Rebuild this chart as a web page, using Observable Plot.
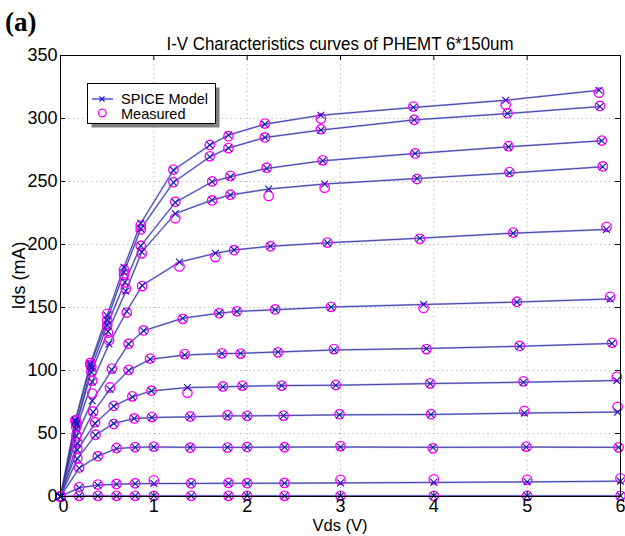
<!DOCTYPE html>
<html>
<head>
<meta charset="utf-8">
<script src="https://cdn.jsdelivr.net/npm/d3@7"></script>
<script src="https://cdn.jsdelivr.net/npm/@observablehq/plot@0.6"></script>
<style>
  html, body { margin: 0; padding: 0; background: #fff; }
  #wrap { position: relative; width: 625px; height: 536px; }
  #wrap > svg { position: absolute; left: 0; top: 0; }
  #over { pointer-events: none; }
</style>
</head>
<body>
<div id="wrap"></div>
<script>
// ---- data (Vds in V, Ids in mA), one array per curve ----
const vds1 = [0,0.2,0.4,0.6,0.8,1.0,1.4,1.8,2.0,2.4,3.0,4.0,5.0,6.0];
const mod1 = [0,0.5,0.5,0.5,0.5,0.5,0.5,0.5,0.5,0.5,0.5,0.5,0.5,0.5];
const mea1 = [0,0.5,0.5,0.5,0.5,0.5,0.5,0.5,0.5,0.5,0.5,0.5,0.5,0.5];

const vds2 = [0,0.2,0.4,0.6,0.8,1.0,1.4,1.8,2.0,2.4,3.0,4.0,5.0,6.0];
const mod2 = [0,7,9,9.8,10.2,10.3,10.3,10.5,10.5,10.6,10.8,11.2,11.6,12.2];
const mea2 = [0,7.5,9.5,10,10.5,12.8,10.5,10.8,10.6,10.8,13.2,13.6,13.2,14.4];

const vds3 = [0,0.2,0.4,0.6,0.8,1.0,1.39,1.79,2.0,2.4,3.0,3.99,4.99,5.98];
const mod3 = [0,22.5,32,38,39,39.3,39,39,39,39.2,39.3,39,39.2,39];
const mea3 = [0,23,32,38.5,39.2,39.6,38.7,38.8,39.3,39.1,40,38.2,39.6,39];

const vds4 = [0,0.18,0.375,0.57,0.79,0.98,1.39,1.79,2.0,2.39,2.99,3.97,4.97,5.97];
const mod4 = [0,30,48.7,58,61.9,62.7,63.2,64,64,64.2,64.8,65.1,66.2,67];
const mea4 = [0,30.5,49,57.5,62,63,63.5,64.5,64,64.2,65.3,65.3,67.9,71.2];

const vds5 = [0,0.18,0.37,0.57,0.77,0.975,1.36,1.74,1.95,2.37,2.95,3.96,4.96,5.96];
const mod5 = [0,37,58,71.7,79,83.8,86.5,87,87.5,88,88.3,89.6,90.7,92];
const mea5 = [0,38,59,72,79.5,84,82.3,87.3,88,88,88.5,89.8,91.4,95];

const vds6 = [0,0.18,0.35,0.53,0.73,0.96,1.33,1.73,1.93,2.33,2.93,3.92,4.92,5.91];
const mod6 = [0,42,67,85,100,108.9,112.3,113.4,113.6,114.7,116.3,117.5,119.2,121.5];
const mea6 = [0,43,67.5,86.5,100.5,109.5,113,113.6,113.4,114.4,117,117,119.5,122];

const vds7 = [0,0.17,0.34,0.55,0.73,0.89,1.31,1.70,1.89,2.30,2.90,3.89,4.89,5.89];
const mod7 = [0,48,76,100.5,121,131.5,141.5,145.5,146.9,148.2,150.3,152.4,154.3,156.8];
const mea7 = [0,48.5,81.7,101.5,121.3,131.8,141,145.5,147,148.5,150.5,149.7,154.6,158.5];

const vds8 = [0,0.17,0.34,0.52,0.71,0.875,1.275,1.66,1.86,2.25,2.86,3.85,4.85,5.85];
const mod8 = [0,54,91,121,147,167.5,186,193,195.7,198.6,201.3,205,209,212];
const mea8 = [0,55,92,124,146,167,182.5,190,195.5,198.6,201.5,204.5,209.5,214];

const vds9 = [0,0.17,0.33,0.51,0.70,0.87,1.23,1.625,1.82,2.23,2.83,3.82,4.81,5.81];
const mod9 = [0,57,98.8,131,163,194,224.5,235.3,239.3,244,248,252.4,256.7,261.7];
const mea9 = [0,58,99,130,165,193,220.8,235,239.5,238.5,245,252,257.5,262];

const vds10 = [0,0.17,0.33,0.50,0.69,0.86,1.23,1.625,1.82,2.21,2.81,3.80,4.80,5.80];
const mod10 = [0,58,102,136,170,199,233.4,249.8,253.8,260.4,266.4,272.2,277.5,282.3];
const mea10 = [0,58.5,103,135.8,170,199,234,250,254.5,261,266.8,272.3,278,282.5];

const vds11 = [0,0.16,0.32,0.50,0.68,0.86,1.21,1.60,1.80,2.19,2.79,3.79,4.79,5.78];
const mod11 = [0,59.5,104,140,178,212.4,249.3,269.6,276.5,284.9,290.8,298.9,303.9,309.5];
const mea11 = [0,60,104.5,139.8,176,212,249.5,270,276.5,285,291.5,299,304.2,310];

const vds12 = [0,0.16,0.32,0.50,0.68,0.86,1.21,1.60,1.80,2.19,2.79,3.78,4.77,5.77];
const mod12 = [0,60.6,105.5,143.7,182,216.8,259,278.9,286.8,295.5,302.6,308.7,314.5,322.4];
const mea12 = [0,60.6,106,145,180,215,259.5,279,286,296,300,309.5,311,320.5];

const xTicks = [0,1,2,3,4,5,6];
const yTicks = [0,50,100,150,200,250,300,350];
const titleText = "I-V Characteristics curves of PHEMT 6*150um";
const panelLabel = "(a)";
const xLabel = "Vds (V)";
const yLabel = "Ids (mA)";
const legendLabels = ["SPICE Model", "Measured"];

// ---- build tables ----
const curves = [
  [vds1, mod1, mea1], [vds2, mod2, mea2], [vds3, mod3, mea3], [vds4, mod4, mea4],
  [vds5, mod5, mea5], [vds6, mod6, mea6], [vds7, mod7, mea7], [vds8, mod8, mea8],
  [vds9, mod9, mea9], [vds10, mod10, mea10], [vds11, mod11, mea11], [vds12, mod12, mea12]
];
const modelRows = curves.flatMap(([v, m], k) => v.map((x, i) => ({curve: k, v: x, ids: m[i]})));
const measRows = curves.flatMap(([v, , s], k) => v.map((x, i) => ({curve: k, v: x, ids: s[i]})));

const W = 625, H = 536;
const mL = 60, mR = 5, mT = 55, mB = 40;
const pW = W - mL - mR, pH = H - mT - mB;
const FONT = "'Liberation Sans', Arial, Helvetica, sans-serif";

const chart = Plot.plot({
  width: W, height: H,
  marginLeft: mL, marginRight: mR, marginTop: mT, marginBottom: mB,
  style: {fontSize: "18px", fontFamily: FONT, background: "white", color: "black"},
  x: {domain: [0, 6], label: null},
  y: {domain: [0, 350], label: null},
  marks: [
    Plot.gridX(xTicks.slice(1, -1), {stroke: "#a8a8a8", strokeOpacity: 1, strokeDasharray: "1,3.5"}),
    Plot.gridY(yTicks.slice(1, -1), {stroke: "#a8a8a8", strokeOpacity: 1, strokeDasharray: "1,3.5"}),
    Plot.line(modelRows, {x: "v", y: "ids", z: "curve", stroke: "#aeb0ee", strokeWidth: 2}),
    Plot.line(modelRows, {x: "v", y: "ids", z: "curve", stroke: "#3a3a98", strokeWidth: 0.9}),
    Plot.dot(measRows, {x: "v", y: "ids", symbol: "circle", r: 4.7, stroke: "#ff00ff", strokeWidth: 1.4, fill: "none"}),
    Plot.dot(modelRows, {x: "v", y: "ids", symbol: "times", r: 3.2, stroke: "#1818b8", strokeWidth: 1.1}),
    Plot.tickX(xTicks, {x: d => d, insetTop: pH - 5, stroke: "black"}),
    Plot.tickX(xTicks, {x: d => d, insetBottom: pH - 5, stroke: "black"}),
    Plot.tickY(yTicks, {y: d => d, insetRight: pW - 5, stroke: "black"}),
    Plot.tickY(yTicks, {y: d => d, insetLeft: pW - 5, stroke: "black"}),
    Plot.axisX(xTicks.slice(0, 1), {tickSize: 0, tickPadding: 3, dx: 3, label: null, tickFormat: d3.format("d")}),
    Plot.axisX(xTicks.slice(1), {tickSize: 0, tickPadding: 3, label: null, tickFormat: d3.format("d")}),
    Plot.axisY(yTicks, {tickSize: 0, tickPadding: 3, label: null, tickFormat: d3.format("d")}),
    Plot.frame({stroke: "black", strokeWidth: 1})
  ]
});

const wrap = document.getElementById("wrap");
wrap.appendChild(chart);

// ---- overlay: panel label, title, axis labels, legend ----
const NS = "http://www.w3.org/2000/svg";
const over = document.createElementNS(NS, "svg");
over.setAttribute("id", "over");
over.setAttribute("width", W);
over.setAttribute("height", H);
function el(tag, attrs, text) {
  const e = document.createElementNS(NS, tag);
  for (const k in attrs) e.setAttribute(k, attrs[k]);
  if (text != null) e.textContent = text;
  over.appendChild(e);
  return e;
}
el("text", {x: 5, y: 31, "font-family": "'Liberation Serif', 'Times New Roman', serif", "font-weight": "bold", "font-size": 27}, panelLabel);
el("text", {x: mL + pW / 2, y: 50, "text-anchor": "middle", "font-family": FONT, "font-size": 17.5, textLength: 347, lengthAdjust: "spacingAndGlyphs"}, titleText);
el("text", {x: mL + pW / 2, y: 531, "text-anchor": "middle", "font-family": FONT, "font-size": 16.5}, xLabel);
el("text", {x: 0, y: 0, transform: `translate(25,${mT + pH / 2}) rotate(-90)`, "text-anchor": "middle", "font-family": FONT, "font-size": 18}, yLabel);

// legend box with shadow
el("rect", {x: 91.5, y: 87.5, width: 128, height: 40, fill: "#808080"});
el("rect", {x: 87.5, y: 83.5, width: 128, height: 40, fill: "white", stroke: "black", "stroke-width": 1});
el("line", {x1: 92, y1: 99, x2: 113, y2: 99, stroke: "#2020e0", "stroke-width": 1.2});
el("path", {d: "M99.5,96.5L104.5,101.5M104.5,96.5L99.5,101.5", stroke: "#1818d0", "stroke-width": 1.2, fill: "none"});
el("circle", {cx: 102.3, cy: 113, r: 3.8, stroke: "#ff00ff", "stroke-width": 1.3, fill: "none"});
el("text", {x: 121, y: 104, "font-family": FONT, "font-size": 14.5}, legendLabels[0]);
el("text", {x: 121, y: 119, "font-family": FONT, "font-size": 14.5}, legendLabels[1]);
wrap.appendChild(over);
</script>
</body>
</html>
